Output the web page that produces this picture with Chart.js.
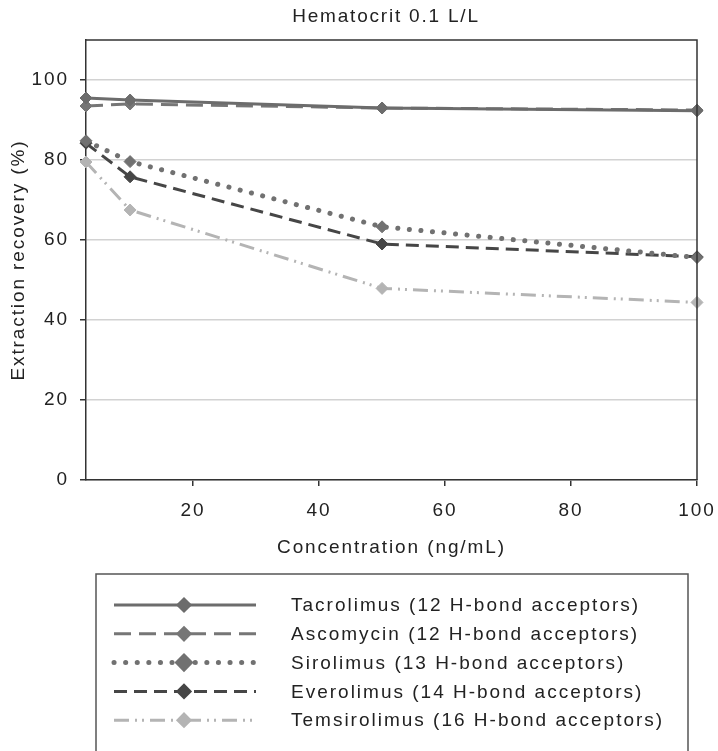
<!DOCTYPE html>
<html>
<head>
<meta charset="utf-8">
<script src="https://cdn.jsdelivr.net/npm/chart.js@4.4.0/dist/chart.umd.min.js"></script>
<style>
  html, body { margin: 0; padding: 0; background: #fff; }
  canvas { display: block; }
</style>
</head>
<body>
<canvas id="recoveryChart" width="718" height="751"></canvas>
<script>
// Data
const concentrations = [3, 10, 50, 100];
const tacrolimus = [95.5, 95.0, 93.0, 92.3];
const ascomycin = [93.5, 94.0, 93.0, 92.5];
const sirolimus = [84.8, 79.6, 63.3, 55.6];
const everolimus = [84.2, 75.8, 59.0, 55.8];
const temsirolimus = [79.5, 67.5, 47.9, 44.4];
const seriesNames = [
    'Tacrolimus (12 H-bond acceptors)',
    'Ascomycin (12 H-bond acceptors)',
    'Sirolimus (13 H-bond acceptors)',
    'Everolimus (14 H-bond acceptors)',
    'Temsirolimus (16 H-bond acceptors)'
];
const xTicks = [20, 40, 60, 80, 100];
const yTicks = [0, 20, 40, 60, 80, 100];
const chartTitle = 'Hematocrit 0.1 L/L';

const FONT = '"Liberation Sans", Arial, Helvetica, sans-serif';
const SPACING = '1.9px';

function points(values) {
    return concentrations.map((c, i) => ({ x: c, y: values[i] }));
}

function series(label, values, color, dash, width, cap) {
    return {
        label: label,
        data: points(values),
        borderColor: color,
        backgroundColor: color,
        borderWidth: width,
        borderDash: dash,
        borderCapStyle: cap,
        pointStyle: 'rectRot',
        pointRadius: 6,
        pointBorderWidth: 1,
        pointBackgroundColor: color,
        pointBorderColor: color,
        tension: 0,
        clip: false
    };
}

// letter spacing like the original typesetting
const spacingPlugin = {
    id: 'spacing',
    beforeInit(chart) { chart.ctx.letterSpacing = SPACING; },
    beforeUpdate(chart) { chart.ctx.letterSpacing = SPACING; },
    beforeDraw(chart) { chart.ctx.letterSpacing = SPACING; }
};

// title, plot frame and the boxed legend underneath
const framePlugin = {
    id: 'frame',
    afterDraw(chart) {
        const ctx = chart.ctx;
        const a = chart.chartArea;
        ctx.save();
        ctx.strokeStyle = '#333';
        ctx.lineWidth = 1.5;
        ctx.beginPath();
        ctx.moveTo(a.left, a.top);
        ctx.lineTo(a.right, a.top);
        ctx.lineTo(a.right, a.bottom);
        ctx.stroke();

        ctx.letterSpacing = '1.8px';
        ctx.fillStyle = '#222';
        ctx.font = '19px ' + FONT;
        ctx.textAlign = 'center';
        ctx.textBaseline = 'middle';
        ctx.fillText(chartTitle, 386, 17);

        // legend box
        ctx.strokeStyle = '#555';
        ctx.lineWidth = 1.5;
        ctx.strokeRect(96, 574, 592, 200);

        ctx.letterSpacing = '2px';
        ctx.font = '19px ' + FONT;
        ctx.textAlign = 'left';
        chart.data.datasets.forEach((ds, i) => {
            const y = 605 + i * 28.8;
            ctx.save();
            ctx.strokeStyle = ds.borderColor;
            ctx.lineWidth = ds.borderWidth;
            ctx.lineCap = ds.borderCapStyle || 'butt';
            ctx.setLineDash(ds.borderDash || []);
            ctx.beginPath();
            ctx.moveTo(114, y);
            ctx.lineTo(256, y);
            ctx.stroke();
            ctx.setLineDash([]);
            Chart.helpers.drawPoint(ctx, {
                pointStyle: 'rectRot', radius: 6, borderWidth: 1
            }, 184, y);
            ctx.fillStyle = ds.borderColor;
            ctx.fill();
            ctx.restore();
            ctx.fillStyle = '#222';
            ctx.fillText(ds.label, 291, y + 1);
        });
        ctx.restore();
    }
};

const ctx = document.getElementById('recoveryChart').getContext('2d');
const recoveryChart = new Chart(ctx, {
    type: 'line',
    data: {
        datasets: [
            series(seriesNames[0], tacrolimus, '#6c6c6c', [], 3, 'butt'),
            series(seriesNames[1], ascomycin, '#767676', [17, 8], 3, 'butt'),
            series(seriesNames[2], sirolimus, '#717171', [0.1, 11.5], 5, 'round'),
            series(seriesNames[3], everolimus, '#464646', [13, 7], 3, 'butt'),
            series(seriesNames[4], temsirolimus, '#b4b4b4', [15, 6, 2, 5, 2, 6], 3, 'butt')
        ]
    },
    options: {
        responsive: false,
        animation: false,
        layout: {
            padding: { top: 40, right: 21, bottom: 192, left: 0 }
        },
        plugins: {
            legend: { display: false },
            title: { display: false },
            tooltip: { enabled: false }
        },
        scales: {
            x: {
                type: 'linear',
                min: 3,
                max: 100,
                afterBuildTicks: function(scale) {
                    scale.ticks = xTicks.map(v => ({ value: v }));
                },
                afterFit: function(scale) {
                    scale.height = 79;
                    scale.paddingLeft = 0;
                    scale.paddingRight = 0;
                },
                grid: {
                    drawOnChartArea: false,
                    drawTicks: true,
                    tickLength: 6,
                    tickColor: '#333',
                    lineWidth: 1.5
                },
                border: { display: true, color: '#333', width: 1.5 },
                ticks: {
                    color: '#222',
                    padding: 13,
                    maxRotation: 0,
                    font: { family: FONT, size: 19 }
                },
                title: {
                    display: true,
                    text: 'Concentration (ng/mL)',
                    color: '#222',
                    padding: { top: 0, bottom: 0 },
                    font: { family: FONT, size: 19 }
                }
            },
            y: {
                min: 0,
                max: 110,
                afterBuildTicks: function(scale) {
                    scale.ticks = yTicks.map(v => ({ value: v }));
                },
                afterFit: function(scale) {
                    scale.width = 86;
                    scale.paddingTop = 0;
                    scale.paddingBottom = 0;
                },
                grid: {
                    color: '#d2d2d2',
                    lineWidth: 1.5,
                    tickLength: 6,
                    tickColor: '#333'
                },
                border: { display: true, color: '#333', width: 1.5 },
                ticks: {
                    color: '#222',
                    padding: 11,
                    font: { family: FONT, size: 19 }
                },
                title: {
                    display: true,
                    text: 'Extraction recovery (%)',
                    color: '#222',
                    padding: { top: 7, bottom: 0 },
                    font: { family: FONT, size: 19 }
                }
            }
        }
    },
    plugins: [spacingPlugin, framePlugin]
});
</script>
</body>
</html>
